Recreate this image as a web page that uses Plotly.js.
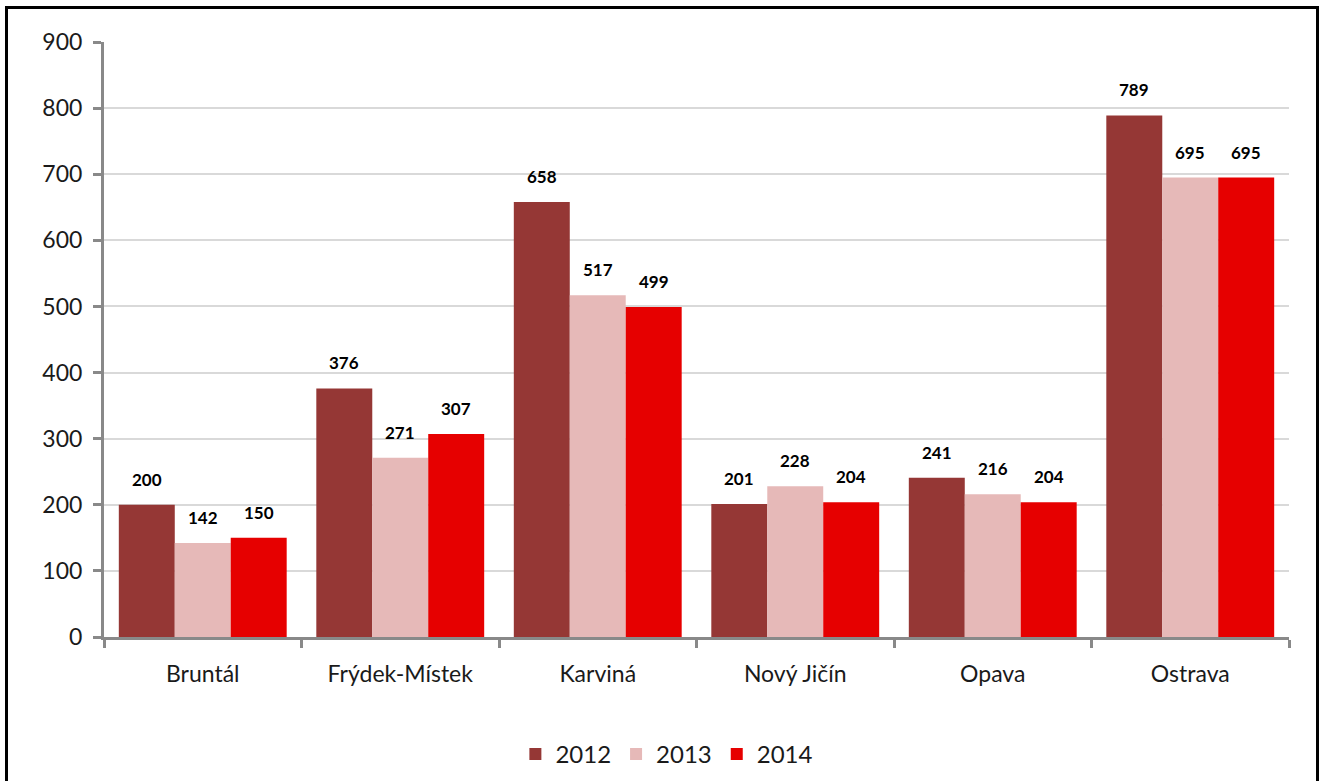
<!DOCTYPE html>
<html><head><meta charset="utf-8">
<script src="https://cdn.plot.ly/plotly-3.0.1.min.js"></script>
<style>
html,body{margin:0;padding:0;background:#fff;overflow:hidden}
#chart{width:1322px;height:781px}
#frame{position:absolute;left:5px;top:6px;width:1308px;height:800px;border:3px solid #000;pointer-events:none}
</style></head>
<body>
<div id="chart"></div>
<div id="frame"></div>
<script>
const categories = ["Bruntál","Frýdek-Místek","Karviná","Nový Jičín","Opava","Ostrava"];
const years = ["2012","2013","2014"];
const values2012 = [200,376,658,201,241,789];
const values2013 = [142,271,517,228,216,695];
const values2014 = [150,307,499,204,204,695];
const colors = ["#953735","#e6b9b8","#e60000"];
const series = [values2012, values2013, values2014];
const font = "Lato, 'Noto Sans', sans-serif";
const bargap = 0.15;

const traces = series.map((vals, i) => ({
  type: "bar",
  name: years[i],
  x: categories,
  y: vals,
  marker: {color: colors[i]},
  hoverinfo: "x+y"
}));

// data labels placed through the axis scales (group offsets derived from bargap)
const barW = (1 - bargap) / series.length;
const annotations = [];
series.forEach((vals, i) => {
  const off = (i - (series.length - 1) / 2) * barW;
  vals.forEach((v, c) => {
    annotations.push({
      xref: "x", yref: "y", x: c + off, y: v,
      text: String(v), showarrow: false, yanchor: "bottom", xanchor: "center",
      yshift: 13,
      font: {family: font, size: 17, color: "#000", weight: "bold"}
    });
  });
});

const layout = {
  width: 1322, height: 781,
  margin: {l: 104, r: 33, t: 42, b: 144, autoexpand: false},
  barmode: "group",
  bargap: bargap,
  bargroupgap: 0,
  paper_bgcolor: "#fff",
  plot_bgcolor: "#fff",
  font: {family: font, color: "#1a1a1a", size: 23},
  showlegend: true,
  legend: {orientation: "h", x: 0.475, xanchor: "center", yref: "container", y: 0.034, yanchor: "middle",
           font: {family: font, size: 24, color: "#1a1a1a"}, itemwidth: 30, traceorder: "normal"},
  annotations: annotations,
  xaxis: {
    type: "category",
    showline: true, linecolor: "#898989", linewidth: 3,
    ticks: "outside", tickson: "boundaries", ticklen: 8, tickwidth: 3, tickcolor: "#898989",
    showgrid: false,
    tickfont: {family: font, size: 23, color: "#1a1a1a"},
    ticklabelstandoff: 14
  },
  yaxis: {
    range: [0, 900], dtick: 100,
    showline: true, linecolor: "#898989", linewidth: 3,
    ticks: "outside", ticklen: 8, tickwidth: 3, tickcolor: "#898989",
    showgrid: true, gridcolor: "#d9d9d9", gridwidth: 2,
    zeroline: false,
    ticklabelstandoff: 6,
    tickfont: {family: font, size: 23, color: "#1a1a1a"}
  }
};

Plotly.newPlot("chart", traces, layout, {displayModeBar: false, responsive: false});
</script>
</body></html>
